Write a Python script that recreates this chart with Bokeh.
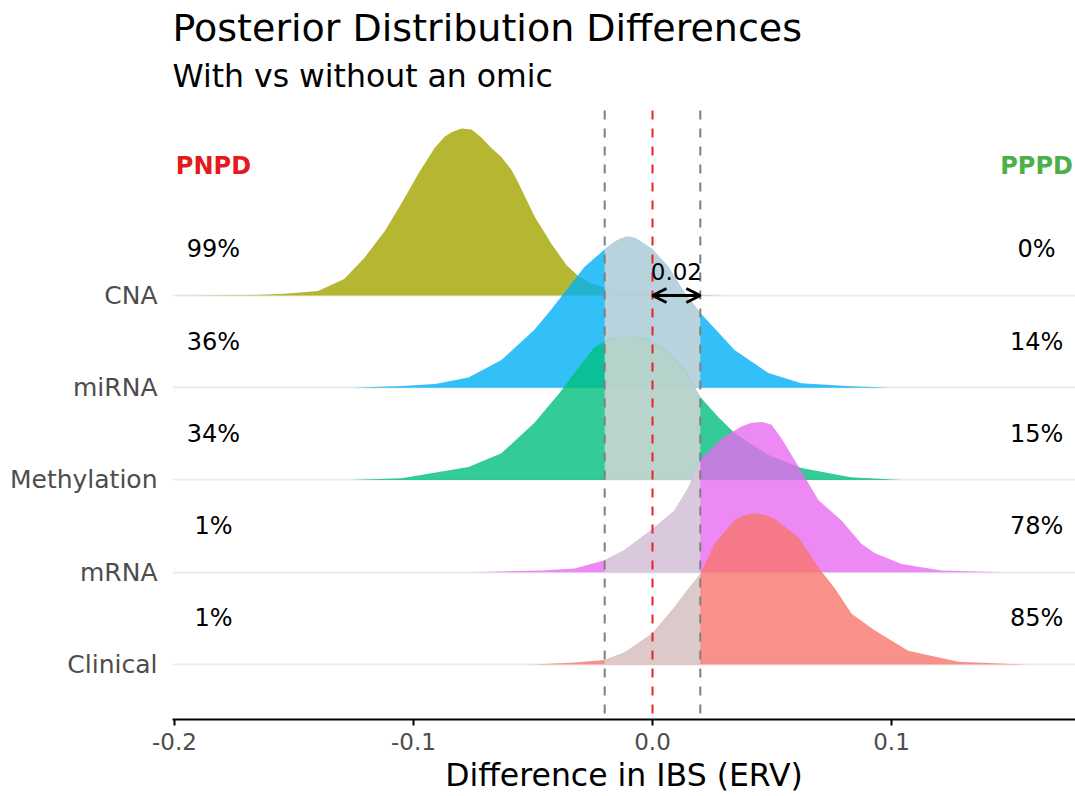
from bokeh.plotting import figure
from bokeh.models import Range1d, FixedTicker, Label, Arrow, OpenHead
from bokeh.embed import file_html
from bokeh.resources import INLINE

FONT = "DejaVu Sans"

# Omics, bottom row first (y = 1 .. 5)
omics = ["Clinical", "mRNA", "Methylation", "miRNA", "CNA"]
omic_colors = ["#F8766D", "#E76BF3", "#00BF7D", "#00B0F6", "#A3A500"]
pnpd_text = ["1%", "1%", "34%", "36%", "99%"]
pppd_text = ["85%", "78%", "15%", "14%", "0%"]

# Scaled posterior densities of the IBS difference for each omic
cna_x = [-0.200, -0.168, -0.154, -0.140, -0.129, -0.1205, -0.112, -0.105, -0.098,
         -0.0912, -0.087, -0.0841, -0.080, -0.0757, -0.0715, -0.0674, -0.0632,
         -0.0590, -0.0561, -0.0494, -0.0423, -0.036, -0.031, -0.0255, -0.020,
         -0.010, 0.000, 0.010, 0.020, 0.029]
cna_h = [0.0, 0.005, 0.02, 0.05, 0.18, 0.41, 0.70, 1.00, 1.32,
         1.60, 1.72, 1.77, 1.81, 1.80, 1.71, 1.60, 1.50,
         1.36, 1.22, 0.86, 0.56, 0.33, 0.21, 0.13, 0.09,
         0.04, 0.02, 0.01, 0.005, 0.0]

mirna_x = [-0.126, -0.105, -0.091, -0.077, -0.0632, -0.0494, -0.0423, -0.0351,
           -0.0285, -0.020, -0.016, -0.013, -0.010, -0.007, -0.0046, 0.000, 0.0067,
           0.0134, 0.020, 0.0276, 0.0343, 0.0485, 0.0623, 0.083, 0.100]
mirna_h = [0.0, 0.02, 0.04, 0.11, 0.30, 0.63, 0.85, 1.09,
           1.31, 1.50, 1.58, 1.62, 1.64, 1.62, 1.58, 1.50, 1.31,
           1.03, 0.81, 0.60, 0.41, 0.16, 0.05, 0.015, 0.0]

meth_x = [-0.126, -0.105, -0.077, -0.0632, -0.0494, -0.039, -0.031, -0.0243,
          -0.020, -0.016, -0.0075, -0.0017, 0.0067, 0.0134, 0.020, 0.0276,
          0.0343, 0.0485, 0.0623, 0.083, 0.104]
meth_h = [0.0, 0.02, 0.14, 0.29, 0.62, 0.94, 1.22, 1.44,
          1.50, 1.55, 1.55, 1.52, 1.38, 1.19, 0.90, 0.68,
          0.51, 0.27, 0.13, 0.03, 0.0]

mrna_x = [-0.0757, -0.0464, -0.0326, -0.020, -0.0117, 0.000, 0.0092, 0.015,
          0.020, 0.0289, 0.0372, 0.0414, 0.0456, 0.0498, 0.054, 0.0603, 0.0695,
          0.0791, 0.0874, 0.0929, 0.1042, 0.1209, 0.1389, 0.146]
mrna_h = [0.0, 0.02, 0.04, 0.13, 0.24, 0.47, 0.67, 0.92,
          1.22, 1.45, 1.58, 1.62, 1.63, 1.60, 1.45, 1.18, 0.78,
          0.56, 0.31, 0.21, 0.09, 0.02, 0.005, 0.0]

clin_x = [-0.0506, -0.0339, -0.020, -0.0117, 0.000, 0.0092, 0.015, 0.020,
          0.0259, 0.0343, 0.0385, 0.0427, 0.047, 0.051, 0.0611, 0.0695, 0.0762,
          0.0833, 0.0929, 0.107, 0.128, 0.156]
clin_h = [0.0, 0.02, 0.05, 0.13, 0.34, 0.62, 0.82, 0.98,
          1.31, 1.56, 1.62, 1.64, 1.62, 1.58, 1.38, 1.05, 0.83,
          0.55, 0.37, 0.15, 0.03, 0.0]

densities = [(clin_x, clin_h), (mrna_x, mrna_h), (meth_x, meth_h),
             (mirna_x, mirna_h), (cna_x, cna_h)]

rope = 0.02
x_ticks = [-0.2, -0.1, 0.0, 0.1]
x_tick_text = ["-0.2", "-0.1", "0.0", "0.1"]

# panel spans y 0.4038 .. 7.005; the headroom above it holds the titles
X0, X1 = -0.20084, 0.17699
Y0, PANEL_TOP, Y1 = 0.4038, 7.005, 8.1978

p = figure(width=1075, height=796,
           x_range=Range1d(X0, X1), y_range=Range1d(Y0, Y1),
           output_backend="svg", toolbar_location=None, title=None,
           min_border_left=172, min_border_right=0, min_border_bottom=77,
           min_border_top=0)

p.outline_line_color = None
p.background_fill_color = "white"
p.xgrid.grid_line_color = None
p.ygrid.ticker = FixedTicker(ticks=[1, 2, 3, 4, 5])
p.ygrid.grid_line_color = "#EBEBEB"
p.ygrid.grid_line_width = 2

# y axis: omic names only
p.yaxis.ticker = FixedTicker(ticks=[1, 2, 3, 4, 5])
p.yaxis.major_label_overrides = {i + 1: name for i, name in enumerate(omics)}
p.yaxis.axis_line_color = None
p.yaxis.major_tick_line_color = None
p.yaxis.minor_tick_line_color = None
p.yaxis.major_tick_out = 0
p.yaxis.major_tick_in = 0
p.yaxis.major_label_standoff = 15
p.yaxis.major_label_text_font = FONT
p.yaxis.major_label_text_font_size = "25px"
p.yaxis.major_label_text_color = "#4D4D4D"

# x axis
p.xaxis.ticker = FixedTicker(ticks=x_ticks)
p.xaxis.major_label_overrides = dict(zip(x_ticks, x_tick_text))
p.xaxis.axis_line_color = "black"
p.xaxis.axis_line_width = 2
p.xaxis.major_tick_line_color = "black"
p.xaxis.major_tick_line_width = 2
p.xaxis.major_tick_out = 6
p.xaxis.major_tick_in = 0
p.xaxis.minor_tick_line_color = None
p.xaxis.major_label_standoff = 7
p.xaxis.major_label_text_font = FONT
p.xaxis.major_label_text_font_size = "23px"
p.xaxis.major_label_text_color = "#4D4D4D"
p.xaxis.axis_label = "Difference in IBS (ERV)"
p.xaxis.axis_label_text_font = FONT
p.xaxis.axis_label_text_font_size = "31.5px"
p.xaxis.axis_label_text_font_style = "normal"
p.xaxis.axis_label_text_color = "black"
p.xaxis.axis_label_standoff = 4

# title and subtitle
p.add_layout(Label(x=X0, y=7.895, text="Posterior Distribution Differences",
                   text_align="left", text_baseline="alphabetic", text_font=FONT,
                   text_font_size="38px", text_color="black"))
p.add_layout(Label(x=X0, y=7.374, text="With vs without an omic",
                   text_align="left", text_baseline="alphabetic", text_font=FONT,
                   text_font_size="31.5px", text_color="black"))

# ridges, top row first so lower rows sit in front
for row in range(len(omics) - 1, -1, -1):
    xs, hs = densities[row]
    base = row + 1
    px = list(xs) + [xs[-1], xs[0]]
    py = [base + h for h in hs] + [base, base]
    p.patch(px, py, fill_color=omic_colors[row], fill_alpha=0.8, line_color=None)
    # region of practical equivalence shaded grey
    rx = [x for x in xs if -rope <= x <= rope]
    rh = [h for x, h in zip(xs, hs) if -rope <= x <= rope]
    qx = rx + [rx[-1], rx[0]]
    qy = [base + h for h in rh] + [base, base]
    p.patch(qx, qy, fill_color="#D6D6D8", fill_alpha=0.82, line_color=None)

# ROPE bounds and zero line across the panel
p.segment(x0=[-rope, rope, 0.0], y0=[PANEL_TOP] * 3, x1=[-rope, rope, 0.0], y1=[Y0] * 3,
          line_color=["#7F7F7F", "#7F7F7F", "#E8202A"], line_width=2, line_dash="9 9")

# ROPE width marker on the top row
p.add_layout(Arrow(start=OpenHead(size=14, line_width=3, line_color="black"),
                   end=OpenHead(size=14, line_width=3, line_color="black"),
                   x_start=0.0, y_start=5, x_end=rope, y_end=5,
                   line_width=3, line_color="black"))
p.add_layout(Label(x=rope / 2, y=5.255, text="0.02", text_align="center",
                   text_baseline="middle", text_font=FONT, text_font_size="23px",
                   text_color="black"))

# probability of negative / positive practical difference
left_x = -0.1837
right_x = 0.1607
p.add_layout(Label(x=left_x, y=6.4, text="PNPD", text_align="center",
                   text_baseline="middle", text_font=FONT, text_font_size="24px",
                   text_font_style="bold", text_color="#E41A1C"))
p.add_layout(Label(x=right_x, y=6.4, text="PPPD", text_align="center",
                   text_baseline="middle", text_font=FONT, text_font_size="24px",
                   text_font_style="bold", text_color="#4DAF4A"))
for row in range(len(omics)):
    p.add_layout(Label(x=left_x, y=row + 1.5, text=pnpd_text[row], text_align="center",
                       text_baseline="middle", text_font=FONT, text_font_size="24px",
                       text_color="black"))
    p.add_layout(Label(x=right_x, y=row + 1.5, text=pppd_text[row], text_align="center",
                       text_baseline="middle", text_font=FONT, text_font_size="24px",
                       text_color="black"))

open("out.html", "w").write(file_html(p, INLINE))
